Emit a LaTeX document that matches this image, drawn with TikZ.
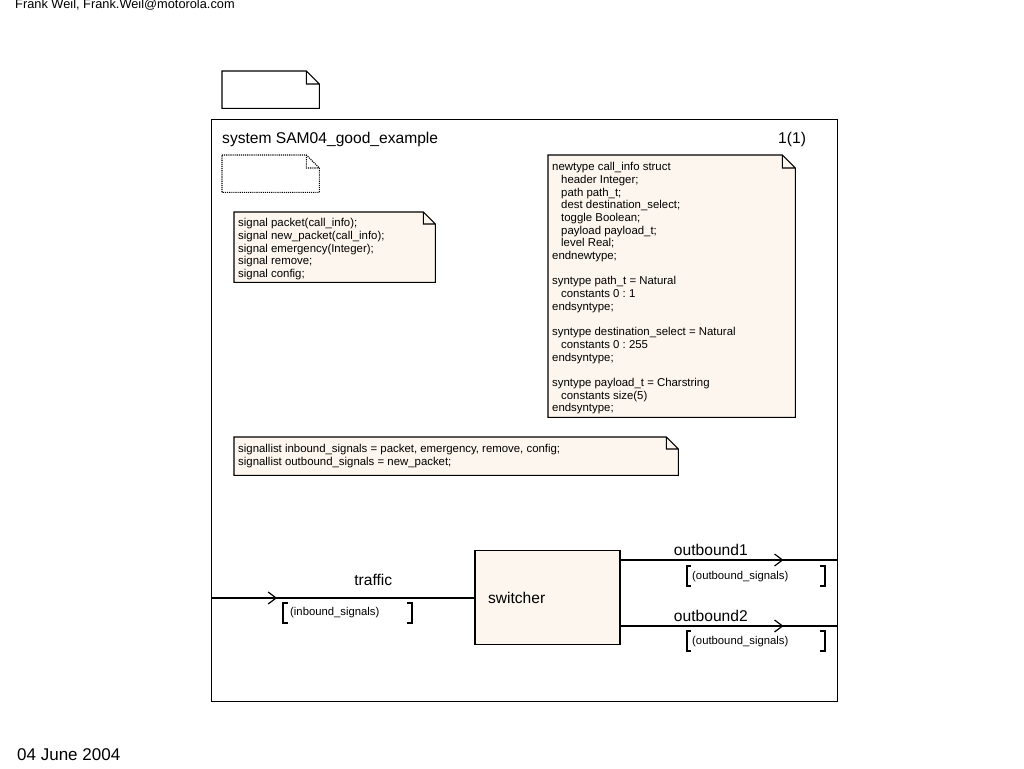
\documentclass[tikz,border=0pt]{standalone}
\usepackage{fontspec}
\setmainfont{Liberation Sans}
\usetikzlibrary{arrows.meta,positioning,decorations.markings}
\definecolor{notefill}{RGB}{253,246,238}
\frenchspacing

% outline of a note with a folded corner, drawn round node #2
\newcommand{\dogear}[3][12]{%
  \fill[white] ([xshift=-#1pt]#2.north east) -- (#2.north east) -- ([yshift=-#1pt]#2.north east) -- cycle;
  \draw[#3] (#2.north west) -- ([xshift=-#1pt]#2.north east) -- ([yshift=-#1pt]#2.north east)
    -- (#2.south east) -- (#2.south west) -- cycle
    ([xshift=-#1pt]#2.north east) |- ([yshift=-#1pt]#2.north east);
}

\begin{document}
\begin{tikzpicture}[x=1pt, y=-1pt,
    bigfont/.style={font=\fontsize{15.6}{18}\selectfont},
    frame/.style={draw, line width=1.2pt, anchor=north west, minimum width=626pt, minimum height=582pt, inner sep=0pt},
    notebox/.style={fill=notefill, anchor=north west, inner sep=0pt},
    notetext/.style={anchor=base west, align=left, inner sep=0pt, font=\fontsize{11.4}{12.7}\selectfont},
    blanknote/.style={anchor=north west, inner sep=0pt, minimum width=97pt, minimum height=37pt},
    noteline/.style={line width=1.1pt},
    block/.style={draw, line width=1.2pt, fill=notefill, minimum width=145pt, minimum height=94pt, text width=119pt, inner xsep=13pt, align=left, bigfont},
    chan/.style={draw, line width=1.2pt, postaction={decorate},
      decoration={markings, mark=at position #1 with {\arrow[line width=1.2pt]{Straight Barb[length=8pt,width=12pt]}}}},
    chanlabel/.style={anchor=south, inner sep=0pt, bigfont},
    sigtext/.style={anchor=west, inner sep=0pt, font=\fontsize{11.3}{13}\selectfont},
    brk/.style={line width=1.1pt}
  ]
  \useasboundingbox (0,0) rectangle (1024,768);

  % Page header and footer
  \node[anchor=base west, inner sep=0pt, font=\fontsize{12.8}{15}\selectfont] (author) at (15,8.5) {Frank Weil, Frank.Weil@motorola.com};
  \node[anchor=base west, inner sep=0pt, font=\fontsize{17}{20}\selectfont] (date) at (17,760) {04 June 2004};

  % System frame
  \node[blanknote, fill=white] (topnote) at (222,71) {};
  \dogear[13]{topnote}{noteline}
  \node[frame] (sys) at (211,119) {};
  \node[anchor=base west, inner sep=0pt, bigfont] (title) at (222,143) {system SAM04\_good\_example};
  \node[anchor=base west, inner sep=0pt, bigfont] (page) at (778,143) {1(1)};
  \node[blanknote] (dotnote) at (222,155) {};
  \dogear[13]{dotnote}{noteline, densely dotted}

  % Declarations
  \node[notebox, minimum width=201pt, minimum height=70pt] (signote) at (234,212) {};
  \dogear{signote}{noteline}
  \node[notetext] (sigdecl) at ([xshift=4pt, yshift=5pt]signote.south west) {%
    signal packet(call\_info);\\
    signal new\_packet(call\_info);\\
    signal emergency(Integer);\\
    signal remove;\\
    signal config;};

  \node[notebox, minimum width=247pt, minimum height=262pt] (typenote) at (548,155) {};
  \dogear[13]{typenote}{noteline}
  \node[notetext] (typedecl) at ([xshift=4pt, yshift=5.5pt]typenote.south west) {%
    newtype call\_info struct\\
    \hspace*{9pt}header Integer;\\
    \hspace*{9pt}path path\_t;\\
    \hspace*{9pt}dest destination\_select;\\
    \hspace*{9pt}toggle Boolean;\\
    \hspace*{9pt}payload payload\_t;\\
    \hspace*{9pt}level Real;\\
    endnewtype;\\[12.7pt]
    syntype path\_t = Natural\\
    \hspace*{9pt}constants 0 : 1\\
    endsyntype;\\[12.7pt]
    syntype destination\_select = Natural\\
    \hspace*{9pt}constants 0 : 255\\
    endsyntype;\\[12.7pt]
    syntype payload\_t = Charstring\\
    \hspace*{9pt}constants size(5)\\
    endsyntype;};

  \node[notebox, minimum width=444pt, minimum height=38pt] (listnote) at (234,437) {};
  \dogear{listnote}{noteline}
  \node[notetext] (listdecl) at ([xshift=4pt, yshift=10.3pt]listnote.south west) {%
    signallist inbound\_signals = packet, emergency, remove, config;\\
    signallist outbound\_signals = new\_packet;};

  % Block
  \node[block] (switcher) at (547.5,597.5) {switcher};

  % Channels
  \coordinate (trin) at (211,598);
  \coordinate (out1) at (837,560);
  \coordinate (out2) at (837,626);
  \draw[chan=0.251] (trin) -- (trin -| switcher.west)
    node[chanlabel, pos=0.616, yshift=12pt] (trlabel) {traffic};
  \draw[chan=0.753] (out1 -| switcher.east) -- (out1)
    node[chanlabel, pos=0.417, yshift=4pt] (o1label) {outbound1};
  \draw[chan=0.753] (out2 -| switcher.east) -- (out2)
    node[chanlabel, pos=0.417, yshift=4pt] (o2label) {outbound2};

  % Signal lists
  \node[sigtext] (trsig) at (290,613) {(inbound\_signals)};
  \draw[brk] (288,603) -- ++(-5,0) -- ++(0,20) -- ++(5,0);
  \draw[brk] (407,603) -- ++(5,0) -- ++(0,20) -- ++(-5,0);
  \node[sigtext] (o1sig) at (692,577) {(outbound\_signals)};
  \draw[brk] (691,566) -- ++(-4,0) -- ++(0,20) -- ++(4,0);
  \draw[brk] (820,566) -- ++(5,0) -- ++(0,20) -- ++(-5,0);
  \node[sigtext] (o2sig) at (692,642) {(outbound\_signals)};
  \draw[brk] (691,631) -- ++(-4,0) -- ++(0,20) -- ++(4,0);
  \draw[brk] (820,631) -- ++(5,0) -- ++(0,20) -- ++(-5,0);
\end{tikzpicture}
\end{document}
